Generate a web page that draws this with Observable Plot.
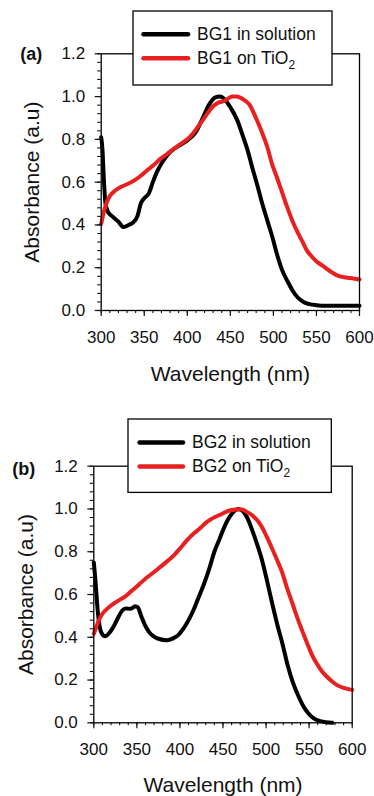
<!DOCTYPE html>
<html><head><meta charset="utf-8">
<script src="https://cdn.jsdelivr.net/npm/d3@7"></script>
<script src="https://cdn.jsdelivr.net/npm/@observablehq/plot@0.6"></script>
<style>
body{margin:0;background:#fff;}
#root{position:relative;width:374px;height:796px;overflow:hidden;background:#fff;}
.panel{position:absolute;left:0;width:374px;height:398px;}
.panel svg{display:block;}
.legend{position:absolute;overflow:visible;}
</style></head><body><div id="root"></div>
<script>
// ---------- data ----------
const xTicks = [300, 350, 400, 450, 500, 550, 600];
const yTicks = [0, 0.2, 0.4, 0.6, 0.8, 1.0, 1.2];
const xTitle = "Wavelength (nm)";
const yTitle = "Absorbance (a.u)";
const seriesColors = ["#000000", "#e8201f"];

// Panel (a) BG1
const namesA = ["BG1 in solution", "BG1 on TiO"];
const wlA_sol = [300,301.5,303,305,308,313,320,326,332,338,342,346,350,355,360,365,372,380,390,400,410,418,425,432,438,444,450,458,465,470,476,481,487,493,499,504,510,516,522,528,535,542,550,560,580,600];
const absA_sol = [0.81,0.75,0.62,0.50,0.46,0.44,0.415,0.39,0.40,0.415,0.44,0.50,0.525,0.545,0.60,0.65,0.70,0.74,0.77,0.795,0.835,0.90,0.96,0.995,1.0,0.985,0.95,0.89,0.81,0.75,0.66,0.59,0.50,0.42,0.34,0.265,0.19,0.14,0.095,0.062,0.04,0.03,0.025,0.022,0.022,0.022];
const wlA_tio = [300,303,306,310,316,322,330,338,346,353,361,369,376,384,392,400,406,412,418,424,430,436,442,447,452,457,462,468,473,477,481,487,493,498,504,510,516,522,528,534,539,545,551,557,562,568,574,580,586,593,600];
const absA_tio = [0.405,0.46,0.50,0.535,0.56,0.576,0.59,0.607,0.63,0.654,0.68,0.71,0.73,0.755,0.778,0.80,0.825,0.857,0.89,0.925,0.955,0.972,0.978,0.99,1.0,1.0,0.994,0.978,0.958,0.925,0.888,0.83,0.763,0.69,0.623,0.553,0.483,0.42,0.366,0.32,0.28,0.25,0.226,0.21,0.195,0.178,0.164,0.157,0.153,0.15,0.145];

// Panel (b) BG2
const namesB = ["BG2 in solution", "BG2 on TiO"];
const wlB_sol = [300,302,304,306,309,313,318,323,328,333,337,343,348,351,355,359,364,369,375,385,392,398,404,410,416,422,428,434,440,446,452,458,464,468,473,478,484,490,496,501,507,513,519,525,531,537,543,549,555,561,569,577];
const absB_sol = [0.75,0.66,0.55,0.47,0.42,0.405,0.42,0.45,0.49,0.525,0.535,0.533,0.545,0.54,0.50,0.46,0.425,0.405,0.393,0.386,0.395,0.41,0.44,0.48,0.53,0.59,0.65,0.72,0.80,0.86,0.92,0.965,0.993,1.0,0.99,0.96,0.90,0.83,0.75,0.666,0.56,0.46,0.37,0.27,0.19,0.13,0.08,0.045,0.022,0.01,0.003,0.0];
const wlB_tio = [300,303,306,310,316,323,330,337,344,352,362,370,377,385,393,400,408,416,424,430,436,442,448,454,460,466,472,478,484,490,496,501,507,513,519,524,530,536,542,548,553,559,565,571,577,583,590,600];
const absB_tio = [0.416,0.45,0.48,0.51,0.535,0.557,0.575,0.592,0.617,0.645,0.681,0.705,0.728,0.755,0.783,0.815,0.853,0.885,0.912,0.935,0.952,0.965,0.975,0.988,0.995,0.998,0.998,0.985,0.97,0.946,0.91,0.868,0.815,0.759,0.70,0.634,0.565,0.494,0.43,0.369,0.32,0.276,0.24,0.214,0.192,0.175,0.163,0.154];

// ---------- drawing ----------
const FONT = "'Liberation Sans', Arial, Helvetica, sans-serif";
const xMinor = d3.range(300, 601, 10);
const yMinor = d3.range(0, 1.2001, 0.04);
const root = document.getElementById("root");

function panel({tag, names, wl1, v1, wl2, v2, top, margins, tagDx, tagDy, yTitleDx, xTitleDy, legend}) {
  const sol = wl1.map((x, i) => ({x, y: v1[i]}));
  const tio = wl2.map((x, i) => ({x, y: v2[i]}));
  const [mt, mr, mb, ml] = margins;
  const chart = Plot.plot({
    width: 374, height: 398,
    marginTop: mt, marginRight: mr, marginBottom: mb, marginLeft: ml,
    style: {fontFamily: FONT, fontSize: "17px", color: "#111", background: "transparent", overflow: "visible"},
    x: {domain: [300, 600], label: null},
    y: {domain: [0, 1.2], label: null},
    marks: [
      Plot.line(sol, {x: "x", y: "y", stroke: seriesColors[0], strokeWidth: 4, curve: "monotone-x"}),
      Plot.line(tio, {x: "x", y: "y", stroke: seriesColors[1], strokeWidth: 4, curve: "monotone-x"}),
      Plot.frame({stroke: "#000", strokeWidth: 1.3}),
      Plot.axisX({ticks: xMinor, tickSize: 3, tickFormat: () => "", label: null, strokeWidth: 1.1}),
      Plot.axisX({ticks: xTicks, tickSize: 6, tickPadding: 14, tickFormat: d => String(d), label: null, strokeWidth: 1.2}),
      Plot.axisY({ticks: yMinor, tickSize: 3.5, tickFormat: () => "", label: null, strokeWidth: 1.1}),
      Plot.axisY({ticks: yTicks, tickSize: 6, tickPadding: 10, tickFormat: d => d.toFixed(1), label: null, strokeWidth: 1.2}),
      Plot.text([xTitle], {frameAnchor: "bottom", dy: xTitleDy, textAnchor: "middle", lineAnchor: "top", fontSize: 21, fill: "#111"}),
      Plot.text([yTitle], {frameAnchor: "left", dx: yTitleDx, rotate: -90, textAnchor: "middle", lineAnchor: "middle", fontSize: 21, fill: "#111"}),
      Plot.text([tag], {frameAnchor: "top-left", dx: tagDx, dy: tagDy, textAnchor: "start", lineAnchor: "middle", fontWeight: "bold", fontSize: 18, fill: "#111"})
    ]
  });
  const div = document.createElement("div");
  div.className = "panel";
  div.style.top = top + "px";
  div.appendChild(chart);
  root.appendChild(div);

  // legend box
  const L = legend;
  const svg = d3.select(div).append("svg")
    .attr("class", "legend")
    .attr("width", L.w + 2).attr("height", L.h + 2)
    .style("left", (L.x - 1) + "px").style("top", (L.y - 1) + "px");
  svg.append("rect").attr("x", 1).attr("y", 1).attr("width", L.w).attr("height", L.h)
    .attr("fill", "#fff").attr("stroke", "#000").attr("stroke-width", 1.3);
  const rowsY = [L.row1, L.row2];
  names.forEach((name, i) => {
    const g = svg.append("g").attr("transform", `translate(1,${rowsY[i] + 1})`);
    g.append("line").attr("x1", L.lx1).attr("x2", L.lx2).attr("y1", 0).attr("y2", 0)
      .attr("stroke", seriesColors[i]).attr("stroke-width", 4.5).attr("stroke-linecap", "round");
    const t = g.append("text").attr("x", L.tx).attr("y", 6)
      .attr("font-family", FONT).attr("font-size", 17.5).attr("fill", "#111").text(name);
    if (i === 1) t.append("tspan").attr("font-size", 12).attr("dy", 5).text("2");
  });
}

panel({
  tag: "(a)", names: namesA,
  wl1: wlA_sol, v1: absA_sol, wl2: wlA_tio, v2: absA_tio,
  top: 0, margins: [53.3, 15, 88, 100.7],
  tagDx: -81, tagDy: 0, yTitleDx: -69, xTitleDy: 56,
  legend: {x: 133, y: 11, w: 199, h: 74, row1: 23.3, row2: 47.3, lx1: 10.5, lx2: 55, tx: 64}
});
panel({
  tag: "(b)", names: namesB,
  wl1: wlB_sol, v1: absB_sol, wl2: wlB_tio, v2: absB_tio,
  top: 398, margins: [67.7, 22.3, 73.7, 93.3],
  tagDx: -81.6, tagDy: 3.5, yTitleDx: -67.5, xTitleDy: 54,
  legend: {x: 127.7, y: 21.3, w: 203.3, h: 73.4, row1: 23.4, row2: 47.4, lx1: 11.6, lx2: 55, tx: 64}
});
</script>
</body></html>
